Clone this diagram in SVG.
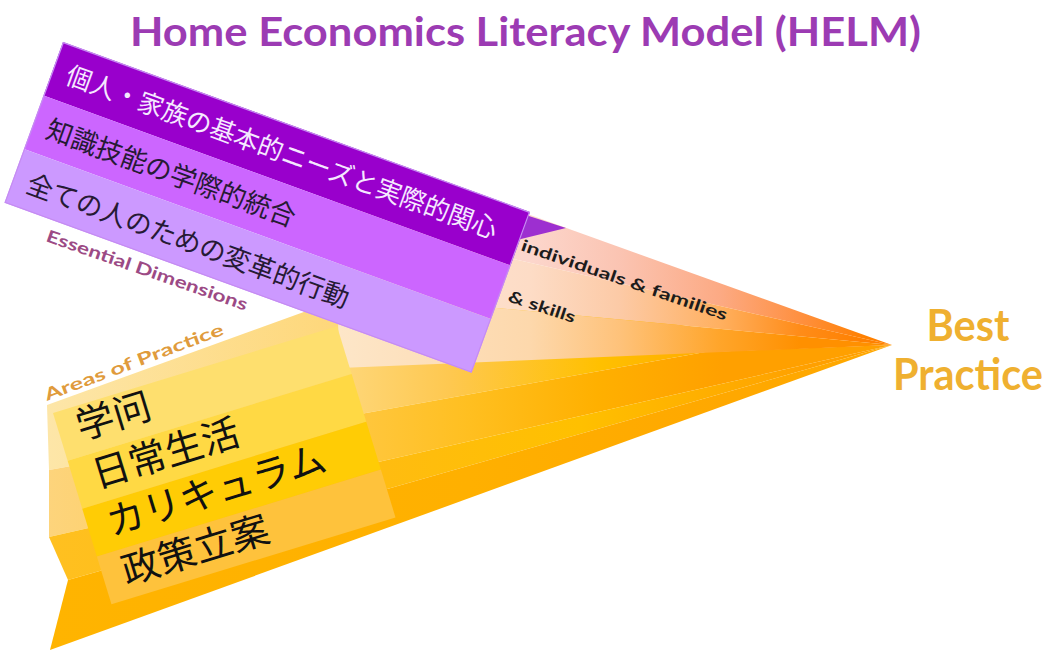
<svg xmlns="http://www.w3.org/2000/svg" width="1051" height="653" viewBox="0 0 1051 653">
<defs>
<style>
.lat{font-family:Lato,"Open Sans","Liberation Sans",sans-serif;font-weight:700}
.jp{font-family:"Noto Sans CJK JP","Noto Sans CJK SC",sans-serif}
.arm{fill:#1c1c1c;font-size:16px}
.lbl{font-size:17px}
.bp{fill:#efb030;font-size:44px}
.pw{fill:#f5e8ff;font-size:26px}
.pd{fill:#261a34;font-size:27px}
.yt{fill:#111;font-size:38px}
</style>
<linearGradient id="gU1" gradientUnits="userSpaceOnUse" x1="340" y1="0" x2="892" y2="0">
<stop offset="0" stop-color="#fde2dc"/><stop offset="0.344" stop-color="#fcd6cc"/><stop offset="0.507" stop-color="#fbc4b2"/><stop offset="0.688" stop-color="#fcaa84"/><stop offset="0.833" stop-color="#ff9040"/><stop offset="0.95" stop-color="#ff8000"/>
</linearGradient>
<linearGradient id="gU2" gradientUnits="userSpaceOnUse" x1="340" y1="0" x2="892" y2="0">
<stop offset="0" stop-color="#fde6d8"/><stop offset="0.344" stop-color="#fddcc6"/><stop offset="0.507" stop-color="#fccaa6"/><stop offset="0.688" stop-color="#ffb060"/><stop offset="0.833" stop-color="#ff8c18"/><stop offset="0.95" stop-color="#ff8000"/>
</linearGradient>
<linearGradient id="gU3" gradientUnits="userSpaceOnUse" x1="340" y1="0" x2="892" y2="0">
<stop offset="0" stop-color="#fde6c8"/><stop offset="0.344" stop-color="#fdd8ac"/><stop offset="0.507" stop-color="#fec27a"/><stop offset="0.688" stop-color="#ffa52a"/><stop offset="0.833" stop-color="#ff9000"/>
</linearGradient>
<linearGradient id="gL1" gradientUnits="userSpaceOnUse" x1="48" y1="0" x2="892" y2="0">
<stop offset="0" stop-color="#fde6a8"/><stop offset="0.346" stop-color="#fed77a"/><stop offset="0.476" stop-color="#fec850"/><stop offset="0.654" stop-color="#ffc000"/><stop offset="0.772" stop-color="#ffae00"/><stop offset="0.891" stop-color="#ff9800"/>
</linearGradient>
<linearGradient id="gL2" gradientUnits="userSpaceOnUse" x1="48" y1="0" x2="892" y2="0">
<stop offset="0" stop-color="#fdd47c"/><stop offset="0.346" stop-color="#ffc843"/><stop offset="0.5" stop-color="#ffbf20"/><stop offset="0.65" stop-color="#ffb000"/><stop offset="0.8" stop-color="#ffa000"/>
</linearGradient>
<linearGradient id="gL3" gradientUnits="userSpaceOnUse" x1="48" y1="0" x2="892" y2="0">
<stop offset="0" stop-color="#ffc020"/><stop offset="0.4" stop-color="#ffbc10"/><stop offset="0.63" stop-color="#ffc000"/><stop offset="0.77" stop-color="#ffb000"/><stop offset="0.9" stop-color="#ffa000"/>
</linearGradient>
<linearGradient id="gL4" gradientUnits="userSpaceOnUse" x1="48" y1="0" x2="892" y2="0">
<stop offset="0" stop-color="#ffb400"/><stop offset="0.5" stop-color="#ffb000"/><stop offset="0.8" stop-color="#ffa800"/>
</linearGradient>
</defs>
<rect width="1051" height="653" fill="#ffffff"/>

<g id="areas-arm">
<polygon points="47,405 420,270 705,330 705,352 49,470" fill="url(#gL1)"/>
<polygon points="49,470 705,352 892,345 49,537" fill="url(#gL2)"/>
<polygon points="49,537 892,345 68,580" fill="url(#gL3)"/>
<polygon points="68,580 892,345 50,650" fill="url(#gL4)"/>
</g>

<g id="dimensions-arm">
<polygon points="330,143.2 892,345 333.3,218.1" fill="url(#gU1)"/>
<polygon points="333.3,218.1 892,345 336.7,293.1" fill="url(#gU2)"/>
<polygon points="336.7,293.1 892,345 340,368" fill="url(#gU3)"/>
<polygon points="495,205 566,228 521,239 495,250" fill="#9d2fd0"/>
<text class="lat arm" x="520" y="250" transform="rotate(19 520 250)" textLength="217" lengthAdjust="spacingAndGlyphs">individuals &amp; families</text>
<text class="lat arm" x="507" y="301" transform="rotate(18.5 507 301)" textLength="70" lengthAdjust="spacingAndGlyphs">&amp; skills</text>
</g>

<g id="areas-box" transform="translate(53,413) rotate(-17)">
<rect x="0" y="0" width="297" height="50" fill="#fedf6e"/>
<rect x="0" y="50" width="297" height="50" fill="#ffd944"/>
<rect x="0" y="100" width="297" height="50" fill="#ffcc05"/>
<rect x="0" y="150" width="297" height="50" fill="#fec23c"/>
<text class="jp yt" x="19" y="34">学问</text>
<text class="jp yt" x="20" y="85">日常生活</text>
<text class="jp yt" x="20" y="135">カリキュラム</text>
<text class="jp yt" x="20" y="186">政策立案</text>
</g>

<g id="dimensions-box" transform="translate(63,42) rotate(20)">
<rect x="0" y="0" width="497" height="57" fill="#9900cc"/>
<rect x="0" y="57" width="497" height="57" fill="#cc66ff"/>
<rect x="0" y="114" width="497" height="57" fill="#cc99ff"/>
<rect x="0.5" y="0.5" width="496" height="170" fill="none" stroke="#c58cf2" stroke-width="1.2"/>
<text class="jp pw" x="15" y="38" textLength="457" lengthAdjust="spacingAndGlyphs">個人・家族の基本的ニーズと実際的関心</text>
<text class="jp pd" x="15" y="96" textLength="263" lengthAdjust="spacingAndGlyphs">知識技能の学際的統合</text>
<text class="jp pd" x="15" y="154" textLength="341" lengthAdjust="spacingAndGlyphs">全ての人のための変革的行動</text>
</g>

<g id="labels">
<text class="lat lbl" x="45" y="241" transform="rotate(19.2 45 241)" textLength="212" lengthAdjust="spacingAndGlyphs" fill="#9c4a85">Essential Dimensions</text>
<text class="lat lbl" x="47" y="401" transform="rotate(-20.6 47 401)" textLength="190" lengthAdjust="spacingAndGlyphs" fill="#e09b3c">Areas of Practice</text>
</g>

<g id="title">
<text class="lat" x="130" y="46" font-size="40" fill="#9c3bb3" textLength="791" lengthAdjust="spacingAndGlyphs">Home Economics Literacy Model (HELM)</text>
</g>

<g id="best-practice">
<text class="lat bp" x="968" y="341" text-anchor="middle" textLength="83" lengthAdjust="spacingAndGlyphs">Best</text>
<text class="lat bp" x="968" y="390" text-anchor="middle" textLength="150" lengthAdjust="spacingAndGlyphs">Practice</text>
</g>
</svg>
